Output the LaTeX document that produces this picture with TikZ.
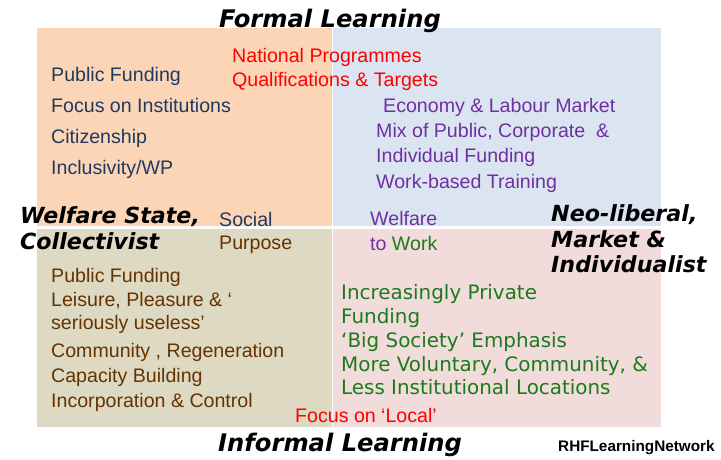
\documentclass[tikz,border=0pt]{standalone}
\usepackage{fontspec}
\setmainfont{Liberation Sans}
\newfontfamily\verd{DejaVu Sans}
\definecolor{qorange}{HTML}{FBD5B5}
\definecolor{qblue}{HTML}{DBE5F1}
\definecolor{qtan}{HTML}{DDD9C3}
\definecolor{qpink}{HTML}{F2DCDB}
\definecolor{tblue}{HTML}{1F3A60}
\definecolor{tbrown}{HTML}{663300}
\definecolor{tpurple}{HTML}{7030A0}
\definecolor{tgreen}{HTML}{1B7A1B}
\definecolor{tred}{HTML}{FF0000}
\tikzset{
  quad/.style={fill=#1, draw=none},
  txt/.style={inner sep=0pt, anchor=base west, font=\fontsize{19.6}{23}\selectfont},
  gtxt/.style={inner sep=0pt, anchor=base west, font=\verd\fontsize{19.9}{23}\selectfont, text=tgreen},
  axisbig/.style={inner sep=0pt, anchor=base west, font=\verd\bfseries\itshape\fontsize{24.2}{28}\selectfont},
  axisside/.style={inner sep=0pt, anchor=base west, font=\verd\bfseries\itshape\fontsize{22.2}{26}\selectfont},
}
\begin{document}
\begin{tikzpicture}[x=1pt,y=-1pt]
\useasboundingbox (0,0) rectangle (721,460);
\fill[white] (0,0) rectangle (721,460);

% the four quadrants
\path[quad=qorange] (37,28) rectangle (332,225.5);
\path[quad=qblue]   (333,28) rectangle (661,226);
\path[quad=qtan]    (37,228.5) rectangle (332,427);
\path[quad=qpink]   (333,228.5) rectangle (661,427);

% axis labels
\node[axisbig]  (formal)   at (219,28) {Formal Learning};
\node[axisbig]  (informal) at (218,451) {Informal Learning};
\node[axisside] (ws1) at (20,223) {Welfare State,};
\node[axisside] (ws2) at (20,249) {Collectivist};
\node[axisside] (nl1) at (551,221) {Neo-liberal,};
\node[axisside] (nl2) at (551,247) {Market \&};
\node[axisside] (nl3) at (551,272) {Individualist};

% formal / welfare state quadrant
\node[txt, text=tblue] (a1) at (51,82)  {Public Funding};
\node[txt, text=tblue] (a2) at (51,113) {Focus on Institutions};
\node[txt, text=tblue] (a3) at (51,143) {Citizenship};
\node[txt, text=tblue] (a4) at (51,175) {Inclusivity/WP};

\node[txt, text=tred] (n1) at (232,63) {National Programmes};
\node[txt, text=tred] (n2) at (232,87) {Qualifications \& Targets};

% formal / neo-liberal quadrant
\node[txt, text=tpurple] (b1) at (383,113) {Economy \& Labour Market};
\node[txt, text=tpurple] (b2) at (376,138) {Mix of Public, Corporate ~\&};
\node[txt, text=tpurple] (b3) at (376,162) {Individual Funding};
\node[txt, text=tpurple] (b4) at (376,188) {Work-based Training};

% centre labels
\node[txt, text=tblue]   (s1) at (219,226) {Social};
\node[txt, text=tbrown]  (s2) at (219,249) {Purpose};
\node[txt, text=tpurple] (w1) at (370,225) {Welfare};
\node[txt] (w2) at (370,250) {\textcolor{tpurple}{to} \textcolor{tgreen}{Work}};

% informal / welfare state quadrant
\node[txt, text=tbrown] (c1) at (51,282) {Public Funding};
\node[txt, text=tbrown] (c2) at (51,306) {Leisure, Pleasure \& ‘};
\node[txt, text=tbrown] (c3) at (51,329) {seriously useless’};
\node[txt, text=tbrown] (c4) at (51,357) {Community , Regeneration};
\node[txt, text=tbrown] (c5) at (51,382) {Capacity Building};
\node[txt, text=tbrown] (c6) at (51,407) {Incorporation \& Control};

% informal / neo-liberal quadrant
\node[gtxt] (d1) at (341,299) {Increasingly Private};
\node[gtxt] (d2) at (341,323) {Funding};
\node[gtxt] (d3) at (341,347) {‘Big Society’ Emphasis};
\node[gtxt] (d4) at (341,371) {More Voluntary, Community, \&};
\node[gtxt] (d5) at (341,394) {Less Institutional Locations};

\node[txt, text=tred] (loc) at (295,422) {Focus on ‘Local’};

% credit line
\node[inner sep=0pt, anchor=base west, font=\bfseries\fontsize{15.3}{18}\selectfont] (credit) at (558,451) {RHFLearningNetwork};
\end{tikzpicture}
\end{document}
